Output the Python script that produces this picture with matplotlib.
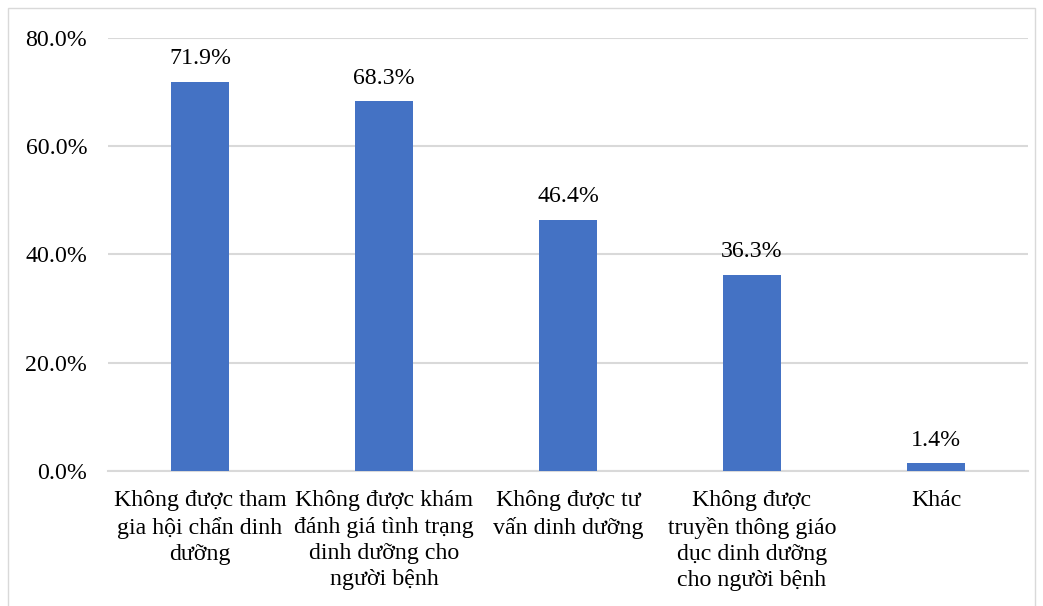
import matplotlib.pyplot as plt
from matplotlib.patches import Rectangle

categories = [
    "Không được tham\ngia hội chẩn dinh\ndưỡng",
    "Không được khám\nđánh giá tình trạng\ndinh dưỡng cho\nngười bệnh",
    "Không được tư\nvấn dinh dưỡng",
    "Không được\ntruyền thông giáo\ndục dinh dưỡng\ncho người bệnh",
    "Khác",
]
values = [71.9, 68.3, 46.4, 36.3, 1.4]
yticks = [0, 20, 40, 60, 80]

plt.rcParams['font.family'] = ['Liberation Serif', 'DejaVu Serif']

fig = plt.figure(figsize=(10.43, 6.06), dpi=100)
ax = fig.add_axes([108 / 1043, 1 - 471 / 606, 920 / 1043, 433 / 606])

x = range(len(values))
bars = ax.bar(x, values, width=0.315, color='#4472C4', zorder=3)
for xi, v in zip(x, values):
    ax.annotate(f"{v:.1f}%", (xi, v), xytext=(0, 9), textcoords='offset points',
                ha='center', va='bottom', fontsize=17.2)

ax.set_xlim(-0.5, 4.5)
ax.set_ylim(0, 80)
ax.set_yticks(yticks)
ax.set_yticklabels([f"{t:.1f}%" for t in yticks], fontsize=17.2)
ax.set_xticks(list(x))
ax.set_xticklabels(categories, fontsize=17.2, linespacing=1.32, va='top')
ax.tick_params(length=0, pad=15)
ax.tick_params(axis='x', pad=14)
ax.yaxis.grid(True, color='#D9D9D9', linewidth=1.5, zorder=0)
for s in ['top', 'right', 'left']:
    ax.spines[s].set_visible(False)
ax.spines['bottom'].set_color('#D9D9D9')
ax.spines['bottom'].set_linewidth(1.5)

fig.patches.append(Rectangle((8 / 1043, -0.01), 1027 / 1043, 1 - 8 / 606 + 0.01,
                             transform=fig.transFigure, fill=False,
                             edgecolor='#D9D9D9', linewidth=1))

fig.savefig('out.png', dpi=100)
